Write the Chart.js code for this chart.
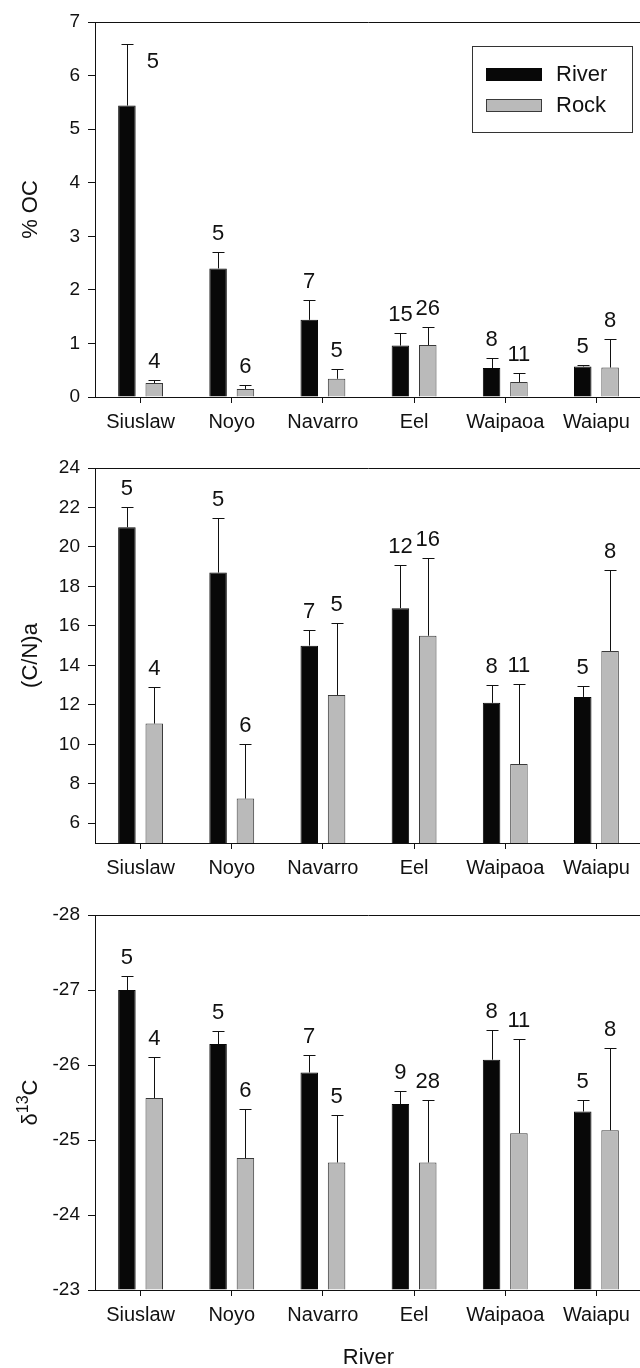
<!DOCTYPE html>
<html>
<head>
<meta charset="utf-8">
<script src="https://cdn.jsdelivr.net/npm/chart.js@4.4.0/dist/chart.umd.min.js"></script>
<style>
  html, body { margin: 0; padding: 0; background: #fff; width: 640px; height: 1368px; overflow: hidden; }
  canvas { position: absolute; left: 0; }
</style>
</head>
<body>
<canvas id="chart-oc"></canvas>
<canvas id="chart-cn"></canvas>
<canvas id="chart-d13"></canvas>
<script>
// ── Data ─────────────────────────────────────────────────────────────────────

const RIVERS = ['Siuslaw', 'Noyo', 'Navarro', 'Eel', 'Waipaoa', 'Waiapu'];

// % OC
const OC_RIVER = [5.44, 2.40, 1.44, 0.96, 0.54, 0.57];
const OC_RIVER_SD = [1.14, 0.30, 0.38, 0.23, 0.18, 0.03];
const OC_RIVER_N = [5, 5, 7, 15, 8, 5];
const OC_ROCK = [0.26, 0.15, 0.34, 0.97, 0.28, 0.55];
const OC_ROCK_SD = [0.05, 0.07, 0.18, 0.34, 0.17, 0.53];
const OC_ROCK_N = [4, 6, 5, 26, 11, 8];
const OC_TICKS = [0, 1, 2, 3, 4, 5, 6, 7];

// (C/N)a
const CN_RIVER = [21.0, 18.7, 15.0, 16.9, 12.1, 12.4];
const CN_RIVER_SD = [1.0, 2.75, 0.78, 2.18, 0.88, 0.54];
const CN_RIVER_N = [5, 5, 7, 12, 8, 5];
const CN_ROCK = [11.05, 7.25, 12.5, 15.5, 9.0, 14.73];
const CN_ROCK_SD = [1.85, 2.75, 3.63, 3.92, 4.05, 4.12];
const CN_ROCK_N = [4, 6, 5, 16, 11, 8];
const CN_TICKS = [6, 8, 10, 12, 14, 16, 18, 20, 22, 24];

// δ13C
const D13_RIVER = [-27.0, -26.28, -25.9, -25.48, -26.07, -25.38];
const D13_RIVER_SD = [0.19, 0.17, 0.24, 0.18, 0.39, 0.16];
const D13_RIVER_N = [5, 5, 7, 9, 8, 5];
const D13_ROCK = [-25.56, -24.76, -24.70, -24.70, -25.09, -25.13];
const D13_ROCK_SD = [0.55, 0.65, 0.63, 0.83, 1.26, 1.10];
const D13_ROCK_N = [4, 6, 5, 28, 11, 8];
const D13_TICKS = [-28, -27, -26, -25, -24, -23];

// ── Style ────────────────────────────────────────────────────────────────────

const FONT = "'Liberation Sans', Arial, Helvetica, sans-serif";
const INK = '#111';
const RIVER_FILL = '#080808';
const ROCK_FILL = '#bababa';
const ROCK_EDGE = '#3a3a3a';

Chart.defaults.font.family = FONT;
Chart.defaults.color = INK;

// ── Plugins ──────────────────────────────────────────────────────────────────

const frame = {
  id: 'frame',
  afterDraw(chart) {
    const { ctx, chartArea: a } = chart;
    ctx.save();
    ctx.strokeStyle = INK;
    ctx.lineWidth = 1;
    ctx.beginPath();
    ctx.moveTo(a.left, a.top + 0.5);
    ctx.lineTo(a.right, a.top + 0.5);
    ctx.moveTo(a.right - 0.5, a.top);
    ctx.lineTo(a.right - 0.5, a.bottom);
    ctx.stroke();
    ctx.restore();
  },
};

// one-sided error bars + sample size above each
const errorBars = {
  id: 'errorBars',
  afterDatasetsDraw(chart) {
    const { ctx, chartArea: area } = chart;
    const y = chart.scales.y;
    const up = y.options.reverse ? -1 : 1;
    ctx.save();
    chart.data.datasets.forEach((ds, i) => {
      chart.getDatasetMeta(i).data.forEach((bar, j) => {
        const x = Math.round(bar.x) + 0.5;
        const yEnd = Math.round(y.getPixelForValue(ds.data[j] + up * ds.sd[j])) + 0.5;
        ctx.strokeStyle = INK;
        ctx.lineWidth = 1;
        ctx.beginPath();
        ctx.moveTo(x, bar.y);
        ctx.lineTo(x, yEnd);
        ctx.moveTo(x - 6, yEnd);
        ctx.lineTo(x + 6, yEnd);
        ctx.stroke();

        ctx.fillStyle = INK;
        ctx.font = '22px ' + FONT;
        ctx.textAlign = 'center';
        ctx.textBaseline = 'alphabetic';
        let tx = bar.x;
        let ty = yEnd - 13;
        if (ty - 16 < area.top) { tx = bar.x + 26; ty = yEnd + 23; }
        ctx.fillText(String(ds.n[j]), tx, ty);
      });
    });
    ctx.restore();
  },
};

// rotated y title, parts allow a superscript
const yTitle = {
  id: 'yTitle',
  afterDraw(chart, args, opts) {
    const { ctx, chartArea: a } = chart;
    const parts = opts.parts || [];
    ctx.save();
    ctx.fillStyle = INK;
    ctx.textBaseline = 'middle';
    ctx.textAlign = 'left';
    let total = 0;
    parts.forEach(p => {
      ctx.font = p.size + 'px ' + FONT;
      p.w = ctx.measureText(p.text).width;
      total += p.w;
    });
    ctx.translate(opts.x, (a.top + a.bottom) / 2);
    ctx.rotate(-Math.PI / 2);
    let cx = -total / 2;
    parts.forEach(p => {
      ctx.font = p.size + 'px ' + FONT;
      ctx.fillText(p.text, cx, -(p.rise || 0));
      cx += p.w;
    });
    ctx.restore();
  },
};

const boxLegend = {
  id: 'boxLegend',
  afterDraw(chart, args, opts) {
    if (!opts.show) return;
    const { ctx } = chart;
    ctx.save();
    ctx.strokeStyle = '#333';
    ctx.lineWidth = 1;
    ctx.strokeRect(472.5, 46.5, 160, 86);
    const rows = [
      { label: chart.data.datasets[0].label, fill: RIVER_FILL, edge: RIVER_FILL, y: 68 },
      { label: chart.data.datasets[1].label, fill: ROCK_FILL, edge: ROCK_EDGE, y: 99 },
    ];
    ctx.font = '22px ' + FONT;
    ctx.textBaseline = 'middle';
    ctx.textAlign = 'left';
    rows.forEach(r => {
      ctx.fillStyle = r.fill;
      ctx.fillRect(486, r.y, 56, 13);
      ctx.strokeStyle = r.edge;
      ctx.strokeRect(486.5, r.y + 0.5, 55, 12);
      ctx.fillStyle = INK;
      ctx.fillText(r.label, 556, r.y + 7);
    });
    ctx.restore();
  },
};

// ── Panels ───────────────────────────────────────────────────────────────────

function makePanel(id, p) {
  const canvas = document.getElementById(id);
  canvas.width = 660;
  canvas.height = p.height;
  canvas.style.width = '660px';
  canvas.style.height = p.height + 'px';
  canvas.style.top = p.top + 'px';

  return new Chart(canvas.getContext('2d'), {
    type: 'bar',
    data: {
      labels: RIVERS,
      datasets: [
        {
          label: 'River',
          data: p.river, sd: p.riverSd, n: p.riverN,
          backgroundColor: RIVER_FILL, borderColor: RIVER_FILL, borderWidth: 1,
          base: p.base,
        },
        {
          label: 'Rock',
          data: p.rock, sd: p.rockSd, n: p.rockN,
          backgroundColor: ROCK_FILL, borderColor: ROCK_EDGE, borderWidth: 1,
          base: p.base,
        },
      ],
    },
    options: {
      responsive: false,
      animation: false,
      devicePixelRatio: 1,
      categoryPercentage: 0.6,
      barPercentage: 0.64,
      layout: { padding: { top: 22, right: 18, left: 0, bottom: 0 } },
      plugins: {
        legend: { display: false },
        tooltip: { enabled: false },
        yTitle: { x: 31, parts: p.title },
        boxLegend: { show: !!p.legend },
      },
      scales: {
        x: {
          grid: { display: true, drawOnChartArea: false, offset: false, color: INK, tickLength: 6 },
          border: { display: true, color: INK },
          ticks: { font: { size: 20 }, color: INK, padding: 7, maxRotation: 0, autoSkip: false },
          title: p.xTitle
            ? { display: true, text: p.xTitle, font: { size: 22 }, color: INK, padding: { top: 0, bottom: 0 } }
            : { display: false },
          afterFit: s => { s.height = p.xHeight; },
        },
        y: {
          min: p.min,
          max: p.max,
          reverse: !!p.reverse,
          grid: { display: true, drawOnChartArea: false, color: INK, tickLength: 7 },
          border: { display: true, color: INK },
          ticks: { font: { size: 19 }, color: INK, padding: 8 },
          afterBuildTicks: s => { s.ticks = p.ticks.map(v => ({ value: v })); },
          afterFit: s => { s.width = 95; },
        },
      },
    },
    plugins: [frame, errorBars, yTitle, boxLegend],
  });
}

makePanel('chart-oc', {
  top: 0, height: 445, xHeight: 48,
  river: OC_RIVER, riverSd: OC_RIVER_SD, riverN: OC_RIVER_N,
  rock: OC_ROCK, rockSd: OC_ROCK_SD, rockN: OC_ROCK_N,
  min: 0, max: 7, base: 0, ticks: OC_TICKS,
  title: [{ text: '% OC', size: 22 }],
  legend: true,
});

makePanel('chart-cn', {
  top: 446, height: 445, xHeight: 48,
  river: CN_RIVER, riverSd: CN_RIVER_SD, riverN: CN_RIVER_N,
  rock: CN_ROCK, rockSd: CN_ROCK_SD, rockN: CN_ROCK_N,
  min: 5, max: 24, base: 5, ticks: CN_TICKS,
  title: [{ text: '(C/N)a', size: 22 }],
});

makePanel('chart-d13', {
  top: 893, height: 478, xHeight: 81,
  river: D13_RIVER, riverSd: D13_RIVER_SD, riverN: D13_RIVER_N,
  rock: D13_ROCK, rockSd: D13_ROCK_SD, rockN: D13_ROCK_N,
  min: -28, max: -23, base: -23, reverse: true, ticks: D13_TICKS,
  title: [{ text: 'δ', size: 22 }, { text: '13', size: 16, rise: 7 }, { text: 'C', size: 22 }],
  xTitle: 'River',
});
</script>
</body>
</html>
